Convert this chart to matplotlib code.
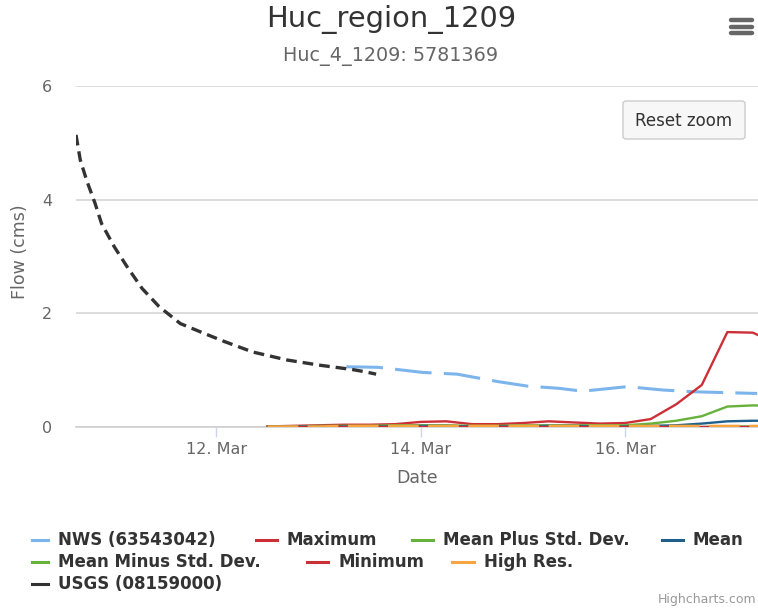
import matplotlib
matplotlib.use("Agg")
import matplotlib.pyplot as plt
import matplotlib.dates as mdates
from matplotlib.lines import Line2D
from matplotlib.patches import FancyBboxPatch
import pandas as pd

# ---------------- data ----------------
usgs_times = ["2018-03-10 15:00", "2018-03-10 16:00", "2018-03-10 17:30", "2018-03-10 19:30",
              "2018-03-10 21:00", "2018-03-11 00:00", "2018-03-11 03:00", "2018-03-11 06:30",
              "2018-03-11 10:30", "2018-03-11 15:30", "2018-03-11 21:00", "2018-03-12 02:00",
              "2018-03-12 08:30", "2018-03-12 16:30", "2018-03-13 00:00", "2018-03-13 08:00",
              "2018-03-13 11:00", "2018-03-13 13:30"]
usgs_flow = [5.14, 4.70, 4.34, 3.93, 3.58, 3.17, 2.82, 2.44, 2.12, 1.82, 1.65, 1.50,
             1.32, 1.18, 1.09, 1.01, 0.97, 0.93]

nws_times = ["2018-03-13 06:30", "2018-03-13 14:00", "2018-03-14 00:30", "2018-03-14 08:30",
             "2018-03-14 18:00", "2018-03-15 01:00", "2018-03-15 08:30", "2018-03-15 14:00",
             "2018-03-16 00:30", "2018-03-16 09:00", "2018-03-16 16:00", "2018-03-17 07:00"]
nws_flow = [1.06, 1.05, 0.96, 0.93, 0.80, 0.72, 0.68, 0.63, 0.71, 0.65, 0.62, 0.59]

ens_times = ["2018-03-12 12:00", "2018-03-12 18:00", "2018-03-13 00:00", "2018-03-13 06:00",
             "2018-03-13 12:00", "2018-03-13 18:00", "2018-03-14 00:00", "2018-03-14 06:00",
             "2018-03-14 12:00", "2018-03-14 18:00", "2018-03-15 00:00", "2018-03-15 06:00",
             "2018-03-15 12:00", "2018-03-15 18:00", "2018-03-16 00:00", "2018-03-16 06:00",
             "2018-03-16 12:00", "2018-03-16 18:00", "2018-03-17 00:00", "2018-03-17 06:00",
             "2018-03-17 12:00"]
maximum = [0.01, 0.02, 0.03, 0.04, 0.04, 0.05, 0.09, 0.10, 0.05, 0.05, 0.07, 0.10,
           0.08, 0.06, 0.07, 0.14, 0.40, 0.74, 1.67, 1.66, 1.45]
mean_plus = [0.01, 0.01, 0.02, 0.02, 0.02, 0.03, 0.03, 0.03, 0.02, 0.02, 0.03, 0.03,
             0.03, 0.03, 0.03, 0.06, 0.11, 0.19, 0.36, 0.38, 0.37]
mean = [0.01, 0.01, 0.01, 0.01, 0.01, 0.01, 0.02, 0.02, 0.01, 0.01, 0.01, 0.02,
        0.02, 0.01, 0.01, 0.02, 0.03, 0.06, 0.10, 0.11, 0.11]
mean_minus = [0.0, 0.0, 0.0, 0.0, 0.0, 0.0, 0.0, 0.0, 0.0, 0.0, 0.0, 0.0,
              0.0, 0.0, 0.0, 0.0, 0.0, 0.0, 0.01, 0.01, 0.01]
minimum = [0.0] * 21
high_res = [0.01, 0.01, 0.01, 0.02, 0.02, 0.02, 0.02, 0.02, 0.02, 0.02, 0.02, 0.02,
            0.02, 0.02, 0.02, 0.02, 0.02, 0.02, 0.02, 0.02, 0.02]

x_start, x_end = "2018-03-10 15:00", "2018-03-17 07:12"
y_ticks = [0, 2, 4, 6]

# ---------------- styles ----------------
C_NWS = "#7cb5ec"
C_RED = "#cc2f36"
C_GREEN = "#66b23a"
C_MEAN = "#1f5f8b"
C_ORANGE = "#f7a540"
C_USGS = "#333333"

W, H = 758, 611
fig = plt.figure(figsize=(W / 100, H / 100), dpi=100)
plt.rcParams['font.family'] = ['DejaVu Sans']

def fx(px):
    return px / W

def fy(py):
    return 1 - py / H

ax = fig.add_axes([fx(76), fy(427), 1 - fx(76), fy(86) - fy(427)])
ax.set_facecolor("white")

ut = pd.to_datetime(usgs_times)
nt = pd.to_datetime(nws_times)
et = pd.to_datetime(ens_times)

ax.plot(nt, nws_flow, color=C_NWS, lw=2.2, dashes=(12, 4), zorder=3)
ax.plot(et, maximum, color=C_RED, lw=1.7, zorder=3)
ax.plot(et, mean_plus, color=C_GREEN, lw=1.7, zorder=3)
ax.plot(et, mean, color=C_MEAN, lw=1.7, zorder=3)
ax.plot(et, mean_minus, color=C_GREEN, lw=1.7, zorder=3)
ax.plot(et, minimum, color=C_RED, lw=1.7, zorder=3)
ax.plot(et, high_res, color=C_ORANGE, lw=1.7, dashes=(13, 4), zorder=3)
ax.plot(ut, usgs_flow, color=C_USGS, lw=2.4, dashes=(3.2, 1.8), zorder=4)

ax.set_xlim(pd.Timestamp(x_start), pd.Timestamp(x_end))
ax.set_ylim(0, 6)
ax.set_yticks(y_ticks)
ax.set_yticklabels([str(v) for v in y_ticks], color="#666666", fontsize=11.5)
ax.xaxis.set_major_locator(mdates.DayLocator(bymonthday=[12, 14, 16]))
ax.xaxis.set_major_formatter(mdates.DateFormatter("%d. %b"))
for lab in ax.get_xticklabels():
    lab.set_color("#666666")
    lab.set_fontsize(11.5)
ax.tick_params(axis="y", length=0, pad=17)
ax.tick_params(axis="x", length=7, width=1, color="#ccd6eb", pad=4, direction="out")
ax.grid(axis="y", color="#d6d6d6", lw=1.2)
for s in ["top", "right", "left"]:
    ax.spines[s].set_visible(False)
ax.spines["bottom"].set_color("#cfcfcf")
ax.spines["bottom"].set_linewidth(1.2)
ax.set_axisbelow(True)

fig.text(fx(417), fy(478), "Date", ha="center", va="center", color="#666666", fontsize=12.5)
fig.text(fx(20), fy(252), "Flow (cms)", ha="center", va="center", rotation=90,
         color="#666666", fontsize=12.5)

# titles
fig.text(fx(391), fy(19), "Huc_region_1209", ha="center", va="center", color="#333333", fontsize=20.8)
fig.text(fx(391), fy(57), "Huc_4_1209: 5781369", ha="center", va="center", color="#666666", fontsize=13.8)

# hamburger menu
for yy in [20, 26.5, 33]:
    fig.add_artist(Line2D([fx(731), fx(752)], [fy(yy), fy(yy)], color="#666666",
                          lw=3.2, solid_capstyle="round"))

# reset zoom button
btn = FancyBboxPatch((fx(623), fy(139)), fx(745) - fx(623), fy(101) - fy(139),
                     boxstyle="round,pad=0,rounding_size=0.004", transform=fig.transFigure,
                     facecolor="#f7f7f7", edgecolor="#cccccc", lw=1, zorder=10)
fig.add_artist(btn)
fig.text(fx(684), fy(121), "Reset zoom", ha="center", va="center", color="#333333",
         fontsize=12, zorder=11)

# legend
legend_items = [
    ("NWS (63543042)", C_NWS, 32, 48, 540),
    ("Maximum", C_RED, 256, 277, 540),
    ("Mean Plus Std. Dev.", C_GREEN, 412, 433, 540),
    ("Mean", C_MEAN, 662, 683, 540),
    ("Mean Minus Std. Dev.", C_GREEN, 32, 48, 562),
    ("Minimum", C_RED, 307, 328, 562),
    ("High Res.", C_ORANGE, 452, 474, 562),
    ("USGS (08159000)", C_USGS, 32, 48, 584),
]
for label, col, x0, x1, yy in legend_items:
    fig.add_artist(Line2D([fx(x0), fx(x1)], [fy(yy), fy(yy)], color=col, lw=2.2))
    fig.text(fx(x1 + 10), fy(yy), label, ha="left", va="center", color="#333333",
             fontsize=12, fontweight="bold")

fig.text(fx(756), fy(600), "Highcharts.com", ha="right", va="center", color="#999999", fontsize=9)

fig.savefig("out.png", dpi=100, facecolor="white")
